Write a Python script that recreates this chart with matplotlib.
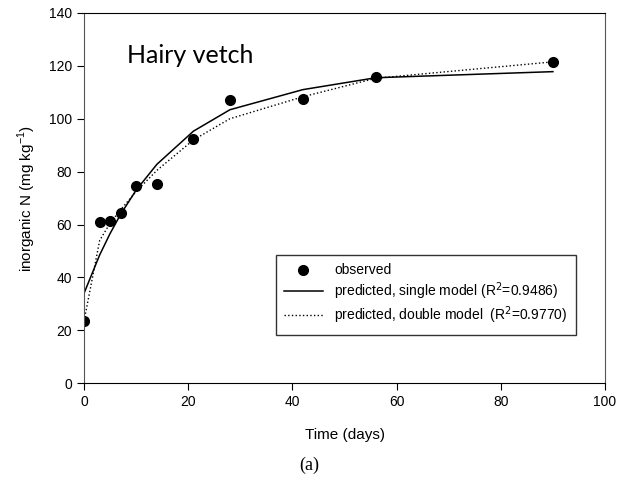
import matplotlib.pyplot as plt

# observed inorganic N over time
days = [0, 3, 5, 7, 10, 14, 21, 28, 42, 56, 90]
observed = [23.7, 60.8, 61.2, 64.2, 74.5, 75.4, 92.4, 107.0, 107.5, 115.8, 121.5]

# model predictions at the same days
single_model = [34.0, 48.5, 56.6, 63.8, 73.0, 82.8, 95.3, 103.4, 111.0, 115.5, 117.8]
double_model = [23.5, 54.0, 60.5, 65.5, 72.5, 80.5, 92.0, 100.0, 108.3, 115.3, 121.5]

plt.rcParams['font.family'] = ['Liberation Sans', 'DejaVu Sans']

fig = plt.figure(figsize=(6.18, 4.79), dpi=100)
ax = fig.add_axes([0.136, 0.2, 0.843, 0.773])

ax.plot(days, observed, 'o', color='black', markersize=7, label='observed')
ax.plot(days, single_model, '-', color='black', linewidth=1.1,
        label='predicted, single model (R$^2$=0.9486)')
ax.plot(days, double_model, ':', color='black', linewidth=1.0,
        label='predicted, double model  (R$^2$=0.9770)')

ax.set_xlim(0, 100)
ax.set_ylim(0, 140)
ax.set_xticks(range(0, 101, 20))
ax.set_yticks(range(0, 141, 20))
ax.tick_params(direction='out', length=5, labelsize=10, top=False, right=False)

for side in ['left', 'right']:
    ax.spines[side].set_color('#555555')
for side in ['top', 'bottom']:
    ax.spines[side].set_color('black')

ax.set_xlabel('Time (days)', fontsize=11, labelpad=14)
ax.set_ylabel('inorganic N (mg kg$^{\\mathregular{-1}}$)', fontsize=11, labelpad=8)

ax.text(8.3, 124, 'Hairy vetch', fontsize=18, family=['Lato', 'DejaVu Sans'],
        va='center', ha='left')

leg = ax.legend(loc='upper right', bbox_to_anchor=(0.944, 0.346), fontsize=10,
                frameon=True, fancybox=False, edgecolor='black', handlelength=2.8,
                borderpad=0.6, labelspacing=0.2, borderaxespad=0)
leg.get_frame().set_linewidth(1.0)

fig.text(0.5, 0.028, '(a)', fontsize=13, family=['Liberation Serif', 'DejaVu Serif'],
         ha='center', va='center')

fig.savefig('out.png', dpi=100)
